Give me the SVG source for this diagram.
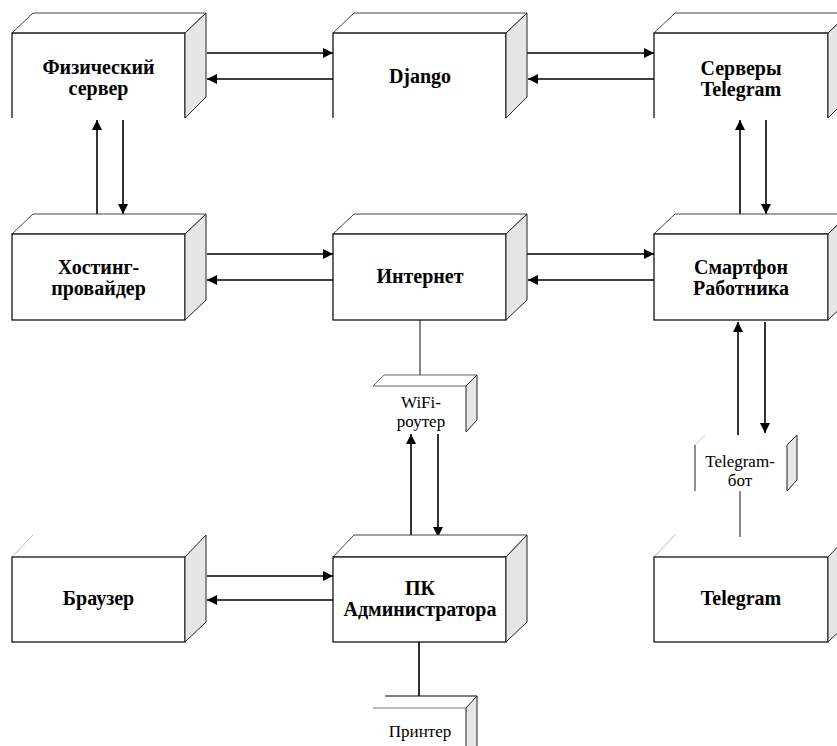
<svg xmlns="http://www.w3.org/2000/svg" width="837" height="746" viewBox="0 0 837 746">
<style>
.front{fill:#fff;stroke:#000;stroke-width:1.2}
.top{fill:#fff;stroke:#444;stroke-width:1}
.side{fill:#e6e6e6;stroke:#222;stroke-width:1}
.open{fill:none;stroke:#000;stroke-width:1.2}
.t{font-family:'Liberation Serif','DejaVu Serif',serif;font-weight:bold;font-size:20px;text-anchor:middle;fill:#000}
.s{font-family:'Liberation Serif','DejaVu Serif',serif;font-size:17px;text-anchor:middle;fill:#000}
.c{fill:none;stroke:#000;stroke-width:1.6}
.cg{fill:none;stroke:#555;stroke-width:1.4}
</style>
<defs>
<marker id="ah" viewBox="0 0 10 10" refX="10" refY="5" markerWidth="10" markerHeight="10" markerUnits="userSpaceOnUse" orient="auto">
<path d="M0,0 L10,5 L0,10 z" fill="#000"/>
</marker>
</defs>
<rect width="837" height="746" fill="#fff"/>

<g id="connectors">
<line class="c" x1="207" y1="53" x2="333" y2="53" marker-end="url(#ah)"/>
<line class="c" x1="333" y1="79" x2="207" y2="79" marker-end="url(#ah)"/>
<line class="c" x1="527" y1="53" x2="654" y2="53" marker-end="url(#ah)"/>
<line class="c" x1="654" y1="79" x2="528" y2="79" marker-end="url(#ah)"/>
<line class="c" x1="207" y1="254" x2="333" y2="254" marker-end="url(#ah)"/>
<line class="c" x1="333" y1="280" x2="207" y2="280" marker-end="url(#ah)"/>
<line class="c" x1="527" y1="254" x2="654" y2="254" marker-end="url(#ah)"/>
<line class="c" x1="654" y1="280" x2="528" y2="280" marker-end="url(#ah)"/>
<line class="c" x1="207" y1="576" x2="333" y2="576" marker-end="url(#ah)"/>
<line class="c" x1="333" y1="600" x2="207" y2="600" marker-end="url(#ah)"/>
<line class="c" x1="97" y1="214" x2="97" y2="120" marker-end="url(#ah)"/>
<line class="c" x1="123" y1="120" x2="123" y2="214" marker-end="url(#ah)"/>
<line class="c" x1="740" y1="214" x2="740" y2="120" marker-end="url(#ah)"/>
<line class="c" x1="766" y1="120" x2="766" y2="214" marker-end="url(#ah)"/>
<line class="c" x1="738" y1="435" x2="738" y2="322" marker-end="url(#ah)"/>
<line class="c" x1="765" y1="322" x2="765" y2="433" marker-end="url(#ah)"/>
<line class="c" x1="411" y1="537" x2="411" y2="434" marker-end="url(#ah)"/>
<line class="c" x1="438" y1="434" x2="438" y2="537" marker-end="url(#ah)"/>
<line class="cg" x1="420" y1="320" x2="420" y2="375"/>
<line class="cg" x1="740" y1="491" x2="740" y2="537"/>
<line class="c" x1="419" y1="642" x2="419" y2="696"/>
</g>

<g id="fizserver">
<polygon class="top" points="12,33 33,13 206,13 185,33"/>
<path class="open" d="M12,118 V33 H185 V118"/>
<polygon class="side" points="185,33 206,13 206,97 185,118"/>
<text class="t" x="98.5" y="74">Физический</text>
<text class="t" x="98.5" y="95">сервер</text>
</g>

<g id="django">
<polygon class="top" points="333,33 354,13 527,13 506,33"/>
<path class="open" d="M333,118 V33 H506 V118"/>
<polygon class="side" points="506,33 527,13 527,97 506,118"/>
<text class="t" x="420" y="83">Django</text>
</g>

<g id="tgservers">
<polygon class="top" points="654,33 675,13 849,13 828,33"/>
<path class="open" d="M654,118 V33 H828 V118"/>
<polygon class="side" points="828,33 849,13 849,97 828,118"/>
<text class="t" x="741" y="75">Серверы</text>
<text class="t" x="741" y="96">Telegram</text>
</g>

<g id="hosting">
<polygon class="top" points="12,234 33,214 206,214 185,234"/>
<rect class="front" x="12" y="234" width="173" height="86"/>
<polygon class="side" points="185,234 206,214 206,300 185,320"/>
<text class="t" x="98.5" y="274">Хостинг-</text>
<text class="t" x="98.5" y="295">провайдер</text>
</g>

<g id="internet">
<polygon class="top" points="333,234 354,214 527,214 506,234"/>
<rect class="front" x="333" y="234" width="173" height="86"/>
<polygon class="side" points="506,234 527,214 527,300 506,320"/>
<text class="t" x="420" y="283">Интернет</text>
</g>

<g id="smartphone">
<polygon class="top" points="654,234 675,214 849,214 828,234"/>
<rect class="front" x="654" y="234" width="174" height="86"/>
<polygon class="side" points="828,234 849,214 849,300 828,320"/>
<text class="t" x="741" y="274">Смартфон</text>
<text class="t" x="741" y="295">Работника</text>
</g>

<g id="browser">
<line x1="12" y1="557" x2="33" y2="535" stroke="#bbb" stroke-width="1"/>
<rect class="front" x="12" y="557" width="173" height="85"/>
<polygon class="side" points="185,557 206,535 206,622 185,642"/>
<text class="t" x="98.5" y="605">Браузер</text>
</g>

<g id="pcadmin">
<polygon class="top" points="333,557 354,535 527,535 506,557"/>
<rect class="front" x="333" y="557" width="173" height="85"/>
<polygon class="side" points="506,557 527,535 527,622 506,642"/>
<text class="t" x="420" y="595">ПК</text>
<text class="t" x="420" y="616">Администратора</text>
</g>

<g id="telegram">
<line x1="654" y1="557" x2="675" y2="535" stroke="#bbb" stroke-width="1"/>
<rect class="front" x="654" y="557" width="174" height="85"/>
<polygon class="side" points="828,557 849,535 849,622 828,642"/>
<text class="t" x="741" y="605">Telegram</text>
</g>

<g id="wifi">
<polygon points="373,386 384,375 477,375 466,386" fill="#fff" stroke="#666" stroke-width="1"/>
<polygon class="side" points="466,386 477,375 477,420 466,432"/>
<text class="s" x="421" y="408">WiFi-</text>
<text class="s" x="421" y="427">роутер</text>
</g>

<g id="tgbot">
<line x1="695" y1="445" x2="705" y2="435" stroke="#ccc" stroke-width="1"/>
<line x1="695" y1="445" x2="695" y2="491" stroke="#444" stroke-width="1.2"/>
<polygon class="side" points="787,445 797,435 797,480 787,491"/>
<text class="s" x="740" y="467">Telegram-</text>
<text class="s" x="740" y="486">бот</text>
</g>

<g id="printer">
<line x1="385" y1="696" x2="477" y2="696" stroke="#000" stroke-width="1.2"/>
<line x1="373" y1="708" x2="466" y2="708" stroke="#777" stroke-width="1"/>
<polygon class="side" points="466,708 477,696 477,750 466,750"/>
<text class="s" x="420" y="737">Принтер</text>
</g>
</svg>
